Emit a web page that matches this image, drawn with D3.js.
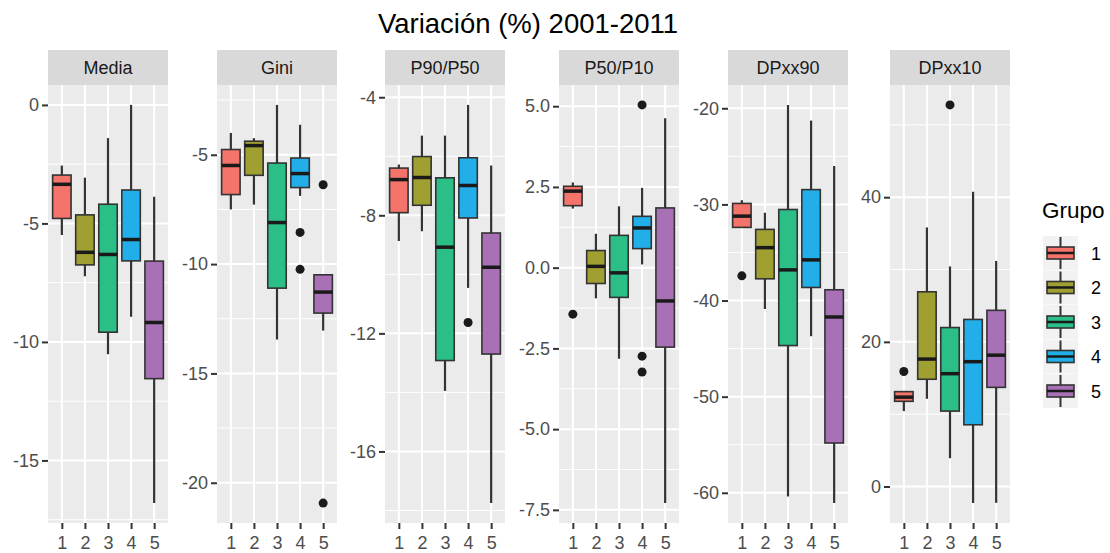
<!DOCTYPE html>
<html><head><meta charset="utf-8">
<script src="https://cdn.jsdelivr.net/npm/d3@7"></script>
<style>body{margin:0;background:#fff}</style>
</head><body><svg id="c" width="1110" height="553"></svg>
<script>
// ---------- DATA ----------
const groups = ["1", "2", "3", "4", "5"];
const groupColors = ["#F4736A", "#A0A032", "#2BBE86", "#22AEE8", "#A870B5"];
const panelNames = ["Media", "Gini", "P90/P50", "P50/P10", "DPxx90", "DPxx10"];
const chartTitle = "Variación (%) 2001-2011";
const legendTitle = "Grupo";

// each row: [lower whisker, Q1, median, Q3, upper whisker], one row per group
const mediaStats = [
  [-5.49, -4.79, -3.35, -2.96, -2.56],
  [-7.23, -6.75, -6.22, -4.64, -3.07],
  [-10.52, -9.59, -6.31, -4.19, -1.40],
  [-8.94, -6.58, -5.68, -3.59, 0.0],
  [-16.80, -11.55, -9.18, -6.59, -3.88]
];
const mediaOutliers = [[], [], [], [], []];
const mediaTicks = [0, -5, -10, -15];
const mediaTickLabels = ["0", "-5", "-10", "-15"];

const giniStats = [
  [-7.50, -6.82, -5.49, -4.76, -4.00],
  [-7.28, -5.94, -4.58, -4.38, -4.24],
  [-13.45, -11.10, -8.10, -5.38, -2.72],
  [-6.88, -6.50, -5.86, -5.15, -3.63],
  [-13.04, -12.24, -11.28, -10.49, -10.49]
];
const giniOutliers = [[], [], [], [-8.55, -10.24], [-6.37, -20.93]];
const giniTicks = [-5, -10, -15, -20];
const giniTickLabels = ["-5", "-10", "-15", "-20"];

const p90p50Stats = [
  [-8.87, -7.91, -6.79, -6.40, -6.28],
  [-8.54, -7.66, -6.72, -6.01, -5.30],
  [-13.95, -12.92, -9.08, -6.73, -5.30],
  [-10.46, -8.09, -6.99, -6.05, -4.26],
  [-17.75, -12.70, -9.76, -8.60, -6.31]
];
const p90p50Outliers = [[], [], [], [-11.63], []];
const p90p50Ticks = [-4, -8, -12, -16];
const p90p50TickLabels = ["-4", "-8", "-12", "-16"];

const p50p10Stats = [
  [1.83, 1.92, 2.37, 2.52, 2.64],
  [-0.95, -0.49, 0.04, 0.53, 1.05],
  [-2.82, -0.92, -0.16, 1.00, 1.90],
  [0.10, 0.59, 1.23, 1.59, 2.47],
  [-7.29, -2.46, -1.03, 1.85, 4.63]
];
const p50p10Outliers = [[-1.44], [], [], [5.04, -2.74, -3.23], []];
const p50p10Ticks = [5, 2.5, 0, -2.5, -5, -7.5];
const p50p10TickLabels = ["5.0", "2.5", "0.0", "-2.5", "-5.0", "-7.5"];

const dpxx90Stats = [
  [-32.39, -32.39, -31.22, -29.90, -29.56],
  [-40.88, -37.74, -34.50, -32.60, -30.87],
  [-60.38, -44.68, -36.81, -30.53, -19.65],
  [-43.71, -38.64, -35.77, -28.46, -21.28],
  [-61.07, -54.82, -41.71, -38.88, -26.01]
];
const dpxx90Outliers = [[-37.43], [], [], [], []];
const dpxx90Ticks = [-20, -30, -40, -50, -60];
const dpxx90TickLabels = ["-20", "-30", "-40", "-50", "-60"];

const dpxx10Stats = [
  [10.43, 11.78, 12.36, 13.12, 13.12],
  [12.13, 14.83, 17.62, 26.92, 35.82],
  [3.91, 10.43, 15.60, 21.98, 30.43],
  [-2.29, 8.54, 17.26, 23.10, 40.76],
  [-2.25, 13.71, 18.16, 24.36, 31.19]
];
const dpxx10Outliers = [[15.91], [], [52.76], [], []];
const dpxx10Ticks = [0, 20, 40];
const dpxx10TickLabels = ["0", "20", "40"];

const panelStats = [mediaStats, giniStats, p90p50Stats, p50p10Stats, dpxx90Stats, dpxx10Stats];
const panelOutliers = [mediaOutliers, giniOutliers, p90p50Outliers, p50p10Outliers, dpxx90Outliers, dpxx10Outliers];
const panelTicks = [mediaTicks, giniTicks, p90p50Ticks, p50p10Ticks, dpxx90Ticks, dpxx10Ticks];
const panelTickLabels = [mediaTickLabels, giniTickLabels, p90p50TickLabels, p50p10TickLabels, dpxx90TickLabels, dpxx10TickLabels];

// ---------- LAYOUT ----------
const panelLeft = [48, 217, 385, 559, 728, 890];
const panelW = 120, stripTop = 50, plotTop = 85, plotBottom = 523;
const FONT = "'Liberation Sans', Arial, Helvetica, sans-serif";
const dark = "#333333";

const svg = d3.select("#c").style("font-family", FONT);

svg.append("text")
  .attr("x", 528).attr("y", 33)
  .attr("text-anchor", "middle")
  .style("font-size", "27.5px").attr("fill", "#000")
  .text(chartTitle);

panelNames.forEach((name, p) => {
  const stats = panelStats[p], outs = panelOutliers[p], ticks = panelTicks[p], labels = panelTickLabels[p];
  const g = svg.append("g").attr("transform", `translate(${panelLeft[p]},0)`);

  const allVals = stats.flat().concat(outs.flat());
  const lo = d3.min(allVals), hi = d3.max(allVals), r = hi - lo;
  const y = d3.scaleLinear().domain([lo - 0.05 * r, hi + 0.05 * r]).range([plotBottom, plotTop]);
  const x = d3.scalePoint().domain(groups).range([0, panelW]).padding(0.6);
  const bw = x.step() * 0.8;

  // strip
  g.append("rect").attr("x", 0).attr("y", stripTop).attr("width", panelW).attr("height", plotTop - stripTop).attr("fill", "#D9D9D9");
  g.append("text").attr("x", panelW / 2).attr("y", 74).attr("text-anchor", "middle")
    .style("font-size", "18px").attr("fill", "#1A1A1A").text(name);

  // panel background
  g.append("rect").attr("x", 0).attr("y", plotTop).attr("width", panelW).attr("height", plotBottom - plotTop).attr("fill", "#EBEBEB");

  // minor grid
  const step = ticks[0] - ticks[1];
  const minors = [];
  for (let k = -1; k < ticks.length; k++) {
    const m = ticks[0] - step * k - step / 2;
    const [d0, d1] = y.domain();
    if (m >= d0 && m <= d1) minors.push(m);
  }
  g.selectAll(".minor").data(minors).join("line")
    .attr("x1", 0).attr("x2", panelW).attr("y1", d => y(d)).attr("y2", d => y(d))
    .attr("stroke", "#fff").attr("stroke-width", 1);
  g.selectAll(".majorY").data(ticks).join("line")
    .attr("x1", 0).attr("x2", panelW).attr("y1", d => y(d)).attr("y2", d => y(d))
    .attr("stroke", "#fff").attr("stroke-width", 2);
  g.selectAll(".majorX").data(groups).join("line")
    .attr("x1", d => x(d)).attr("x2", d => x(d)).attr("y1", plotTop).attr("y2", plotBottom)
    .attr("stroke", "#fff").attr("stroke-width", 2);

  // axes
  const ya = g.append("g").call(d3.axisLeft(y).tickValues(ticks).tickFormat((d, i) => labels[i]).tickSize(6).tickPadding(3));
  const xa = g.append("g").attr("transform", `translate(0,${plotBottom})`).call(d3.axisBottom(x).tickSize(6).tickPadding(7));
  [ya, xa].forEach(a => {
    a.select(".domain").remove();
    a.selectAll(".tick line").attr("stroke", dark).attr("stroke-width", 2);
    a.selectAll(".tick text").attr("fill", "#4D4D4D").style("font-size", "18px").style("font-family", FONT);
  });

  // boxes
  const bg = g.selectAll(".box").data(stats).join("g");
  bg.append("line")
    .attr("x1", (d, i) => x(groups[i])).attr("x2", (d, i) => x(groups[i]))
    .attr("y1", d => y(d[0])).attr("y2", d => y(d[4]))
    .attr("stroke", dark).attr("stroke-width", 2.2);
  bg.append("rect")
    .attr("x", (d, i) => x(groups[i]) - bw / 2).attr("width", bw)
    .attr("y", d => y(d[3])).attr("height", d => Math.max(0.5, y(d[1]) - y(d[3])))
    .attr("fill", (d, i) => groupColors[i]).attr("stroke", dark).attr("stroke-width", 1.6);
  bg.append("line")
    .attr("x1", (d, i) => x(groups[i]) - bw / 2).attr("x2", (d, i) => x(groups[i]) + bw / 2)
    .attr("y1", d => y(d[2])).attr("y2", d => y(d[2]))
    .attr("stroke", "#1A1A1A").attr("stroke-width", 3.5);

  const pts = [];
  outs.forEach((arr, i) => arr.forEach(v => pts.push({ g: groups[i], v })));
  g.selectAll(".out").data(pts).join("circle")
    .attr("cx", d => x(d.g)).attr("cy", d => y(d.v)).attr("r", 4.5).attr("fill", "#1A1A1A");
});

// legend
const lg = svg.append("g");
lg.append("text").attr("x", 1042).attr("y", 218).style("font-size", "22.5px").attr("fill", "#000").text(legendTitle);
const ly = d3.scalePoint().domain(groups).range([253, 391]);
const keys = lg.selectAll(".key").data(groups).join("g").attr("transform", d => `translate(0,${ly(d)})`);
keys.append("rect").attr("x", 1043).attr("y", -17).attr("width", 35).attr("height", 34).attr("fill", "#F2F2F2");
keys.append("line").attr("x1", 1060.5).attr("x2", 1060.5).attr("y1", -16).attr("y2", 16).attr("stroke", dark).attr("stroke-width", 2);
keys.append("rect").attr("x", 1047).attr("y", -6).attr("width", 27).attr("height", 12)
  .attr("fill", (d, i) => groupColors[i]).attr("stroke", dark).attr("stroke-width", 1.6);
keys.append("line").attr("x1", 1047).attr("x2", 1074).attr("y1", 0).attr("y2", 0).attr("stroke", "#1A1A1A").attr("stroke-width", 2.5);
keys.append("text").attr("x", 1091).attr("y", 6.5).style("font-size", "18px").attr("fill", "#000").text(d => d);
</script>
</body></html>
